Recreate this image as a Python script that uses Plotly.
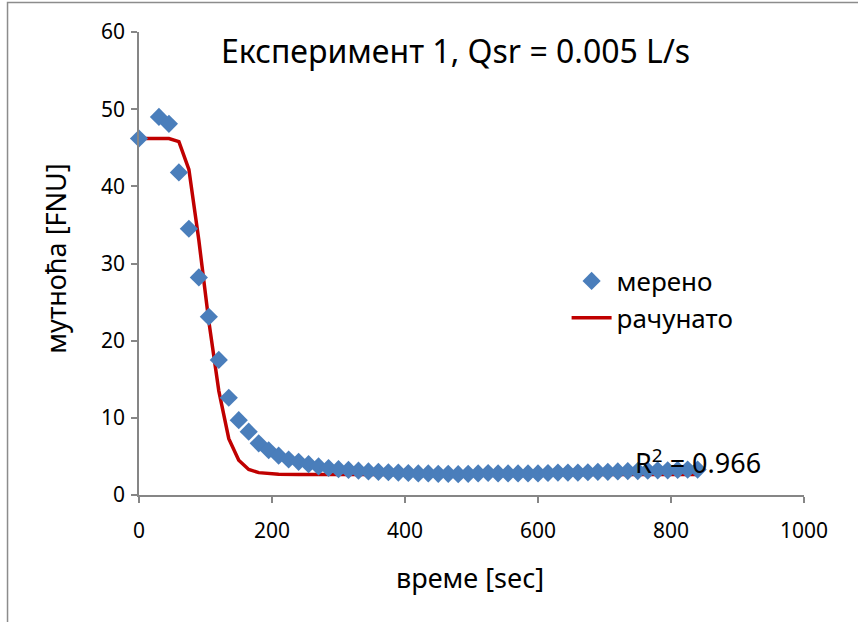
import plotly.graph_objects as go

# Measured turbidity (FNU) over time (sec)
time_measured = [0, 30, 45, 60, 75, 90, 105, 120, 135, 150, 165, 180, 195, 210, 225,
                 240, 255, 270, 285, 300, 315, 330, 345, 360, 375, 390, 405, 420, 435,
                 450, 465, 480, 495, 510, 525, 540, 555, 570, 585, 600, 615, 630, 645,
                 660, 675, 690, 705, 720, 735, 750, 765, 780, 795, 810, 825, 840]
turbidity_measured = [46.2, 49.0, 48.1, 41.8, 34.5, 28.2, 23.1, 17.5, 12.6, 9.7, 8.2, 6.7,
                      5.8, 5.1, 4.6, 4.3, 4.0, 3.7, 3.5, 3.35, 3.25, 3.15, 3.05, 3.0, 2.95,
                      2.9, 2.85, 2.8, 2.8, 2.75, 2.75, 2.7, 2.75, 2.8, 2.85, 2.8, 2.8, 2.8,
                      2.8, 2.8, 2.85, 2.9, 2.9, 2.9, 2.95, 3.0, 3.0, 3.05, 3.1, 3.1, 3.15,
                      3.2, 3.2, 3.25, 3.3, 3.3]

# Computed (model) turbidity
time_model = [0, 15, 30, 45, 60, 75, 90, 105, 120, 135, 150, 165, 180, 195, 210, 240,
              300, 400, 500, 600, 700, 840]
turbidity_model = [46.2, 46.2, 46.2, 46.2, 45.8, 42.2, 33.0, 22.5, 13.5, 7.3, 4.5, 3.3,
                   2.9, 2.75, 2.7, 2.65, 2.65, 2.65, 2.65, 2.65, 2.65, 2.65]

title_text = "Експеримент 1, Qsr = 0.005 L/s"
x_title = "време [sec]"
y_title = "мутноћа [FNU]"
name_measured = "мерено"
name_model = "рачунато"
r2_text = "R<sup>2</sup> = 0.966"

FONT = "Noto Sans"
AXIS_GREY = "#868686"
BLACK = "#000000"

fig = go.Figure()

fig.add_trace(go.Scatter(
    x=time_model, y=turbidity_model, mode="lines", name=name_model,
    line=dict(color="#C00000", width=3.5), cliponaxis=False,
))
fig.add_trace(go.Scatter(
    x=time_measured, y=turbidity_measured, mode="markers", name=name_measured,
    marker=dict(symbol="diamond", size=14, color="#4A7EBB", line=dict(width=0)),
    cliponaxis=False,
))

axis_common = dict(
    showline=True, linecolor=AXIS_GREY, linewidth=1.5,
    ticks="outside", tickcolor=AXIS_GREY, ticklen=6, tickwidth=1.5,
    showgrid=False, zeroline=False,
    tickfont=dict(family=FONT, size=21, color=BLACK),
)

fig.update_xaxes(range=[0, 1000], dtick=200, tick0=0, ticklabelstandoff=10,
                 **axis_common)
fig.update_yaxes(range=[0, 60], dtick=10, tick0=0, ticklabelstandoff=2,
                 **axis_common)

# Axis titles
fig.add_annotation(
    text=x_title, xref="paper", yref="paper", x=0.497, y=-0.179,
    showarrow=False, font=dict(family=FONT, size=27, color=BLACK),
    xanchor="center", yanchor="middle",
)
fig.add_annotation(
    text=y_title, xref="paper", yref="paper", x=-0.125, y=0.512,
    showarrow=False, textangle=-90, font=dict(family=FONT, size=27, color=BLACK),
    xanchor="center", yanchor="middle",
)

# Chart title
fig.add_annotation(
    text=title_text, xref="paper", yref="paper", x=0.476, y=0.961,
    showarrow=False, font=dict(family=FONT, size=32, color=BLACK),
    xanchor="center", yanchor="middle",
)

# Coefficient of determination
fig.add_annotation(
    text=r2_text, xref="x", yref="y", x=840, y=4.4,
    showarrow=False, font=dict(family=FONT, size=27, color=BLACK),
    xanchor="center", yanchor="middle",
)

# Outer chart frame
fig.add_shape(
    type="rect", xref="paper", yref="paper",
    x0=-0.1977, y0=-0.35, x1=1.12, y1=1.0637,
    line=dict(color="#8C8C8C", width=1.5), fillcolor="rgba(0,0,0,0)",
    layer="below",
)

fig.update_layout(
    width=858, height=622,
    margin=dict(l=139, r=54, t=32, b=127),
    paper_bgcolor="white", plot_bgcolor="white",
    font=dict(family=FONT, color=BLACK),
    showlegend=True,
    legend=dict(
        x=0.643, y=0.513, xanchor="left", yanchor="top",
        traceorder="reversed",
        font=dict(family=FONT, size=26, color=BLACK),
        bgcolor="rgba(0,0,0,0)", itemwidth=40,
        tracegroupgap=0,
    ),
)

fig.write_html("out.html")
